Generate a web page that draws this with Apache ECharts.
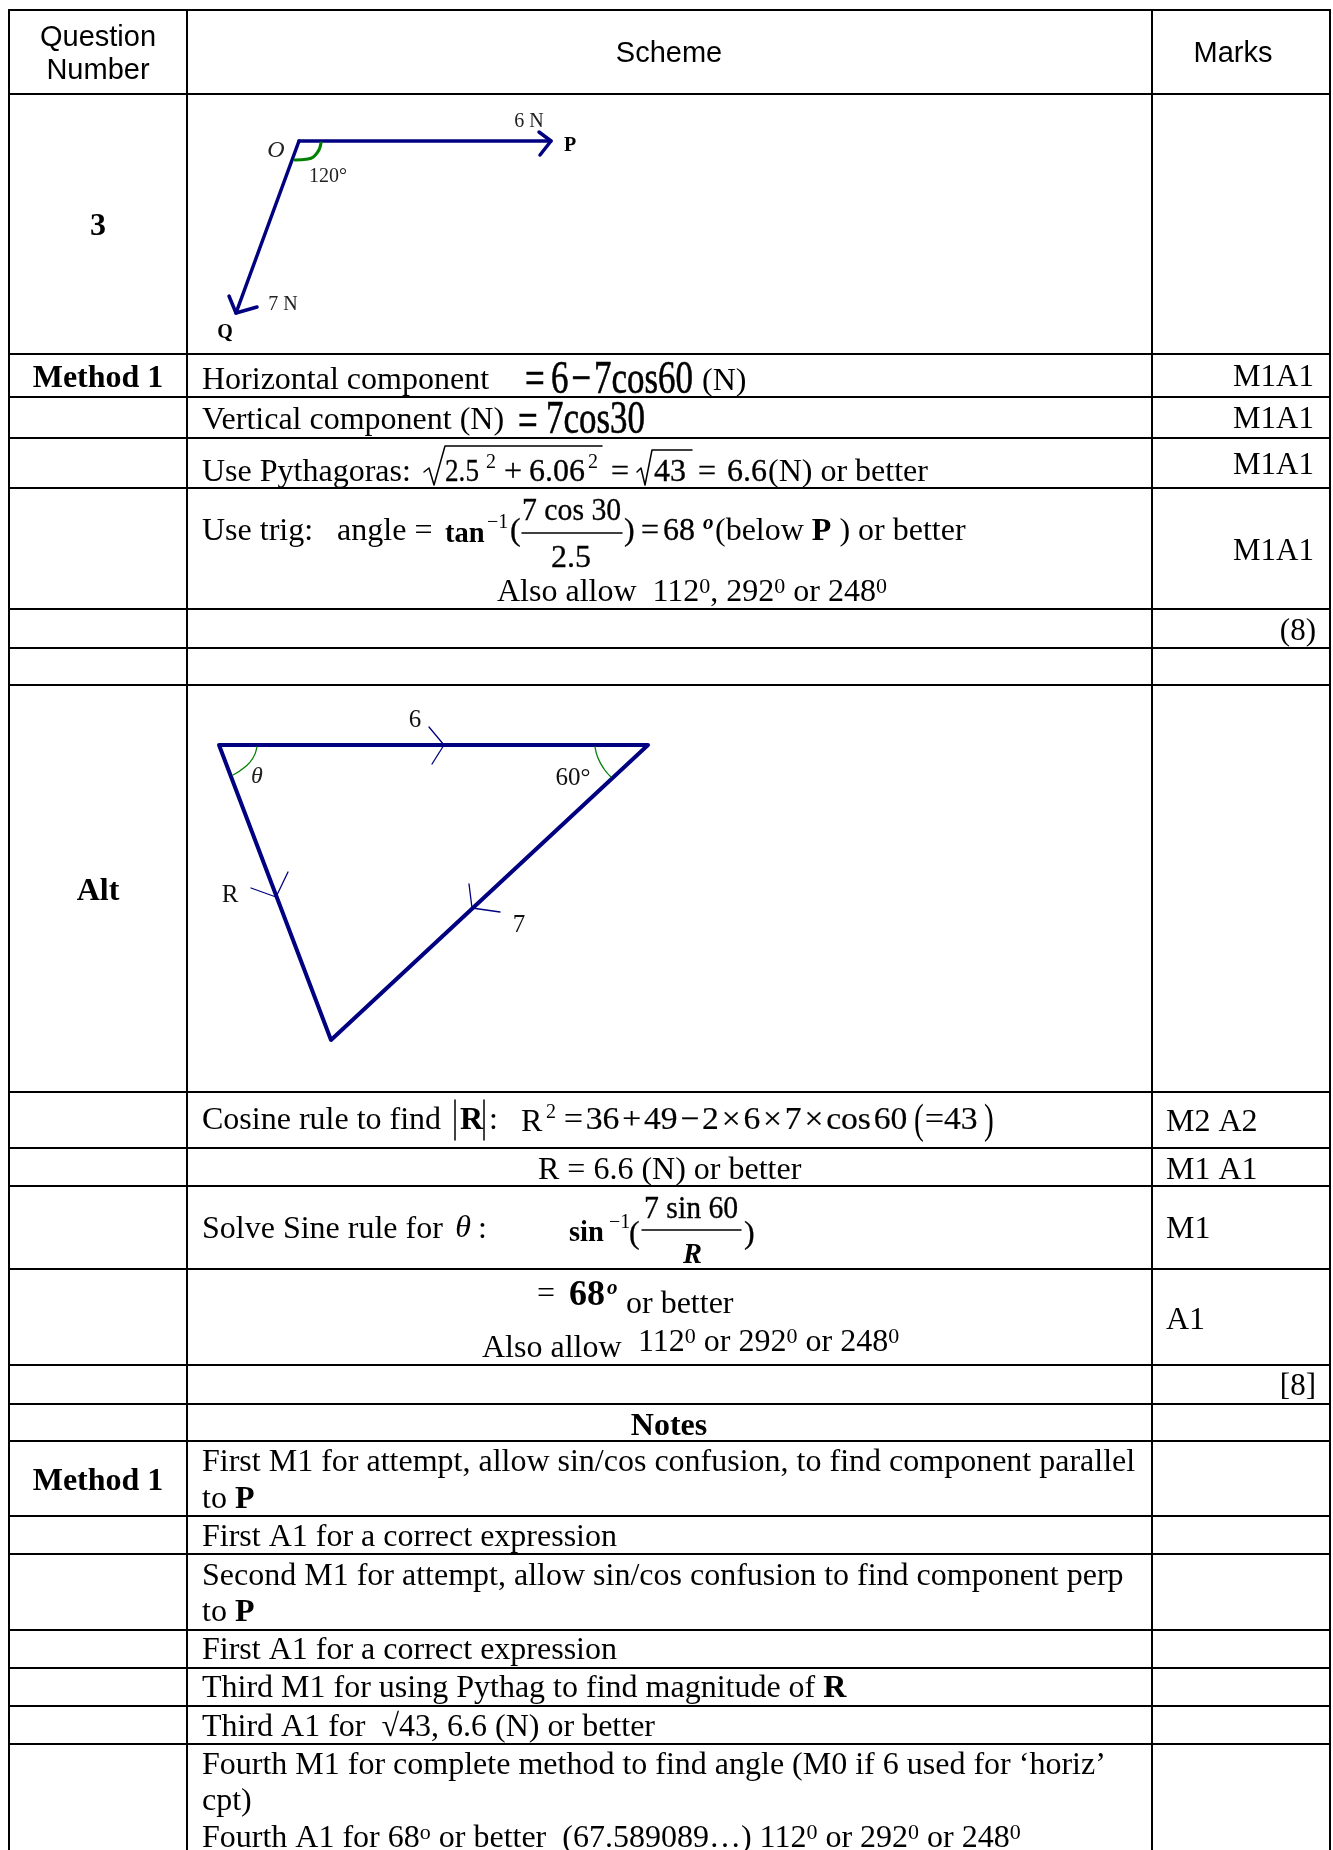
<!DOCTYPE html>
<html>
<head>
<meta charset="utf-8">
<title>Question 3 scheme</title>
<script src="https://cdn.jsdelivr.net/npm/echarts@6/dist/echarts.min.js"></script>
<style>
  html, body { margin: 0; padding: 0; background: #fff; }
  #chart { width: 1333px; height: 1850px; }
</style>
</head>
<body>
<div id="chart"></div>
<script>
// table grid
var columnEdges = [9, 187, 1152, 1330];
var rowEdges = [10, 94, 354, 397, 438, 488, 609, 648, 685, 1092, 1148, 1186, 1269, 1365, 1404, 1441, 1516, 1554, 1630, 1668, 1706, 1744];

// force diagram
var forcePaths = [
  [[299, 141], [551, 141]],
  [[539, 132], [551, 141], [540, 155]],
  [[299, 141], [236, 313]],
  [[229, 296], [236, 313], [257, 307]]
];
var forceArc = [[321, 143], [317, 153], [308, 159], [295, 160]];

// triangle diagram
var trianglePath = [[219, 745], [648, 745], [331, 1040], [219, 745]];
var triangleTicks = [
  [[429, 727], [444, 745], [432, 764]],
  [[251, 888], [276, 897], [288, 872]],
  [[469, 884], [472, 908], [500, 912]]
];
var triangleArcs = [
  [[257, 747], [253, 758], [245, 767], [233, 775]],
  [[595, 747], [598, 758], [604, 769], [611, 777]]
];

// rules inside the formulas
var mathRules = [
  [[424, 472], [429, 468], [434, 485], [445, 446], [602, 446]],
  [[637, 472], [641, 468], [645, 485], [652, 450], [692, 450]],
  [[522, 533], [622, 533]],
  [[642, 1230], [741, 1230]],
  [[455, 1100], [455, 1140]],
  [[484, 1100], [484, 1140]]
];

// text, one list of strings and one of anchors per style
var headerTexts = ['Question', 'Number', 'Scheme', 'Marks'];
var headerAnchors = [[98, 35], [98, 68], [669, 51], [1233, 51]];

var sideTexts = ['3', 'Method 1', 'Alt', 'Notes', 'Method 1'];
var sideAnchors = [[98, 224], [98, 376], [98, 889], [669, 1424], [98, 1479]];

var forceTexts = ['6 N', '120°', '7 N'];
var forceAnchors = [[529, 119], [328, 174], [283, 302]];
var triangleTexts = ['6', '60°', 'R', '7'];
var triangleTextAnchors = [[415, 718], [573, 776], [230, 893], [519, 923]];
var forceNames = ['P', 'Q'];
var forceNameAnchors = [[570, 143], [225, 330]];
var italicTexts = ['O', 'θ'];
var italicAnchors = [[276, 148], [257, 774]];

var bodyTexts = [
  'Horizontal component', '(N)',
  'Vertical component (N)',
  'Use Pythagoras:', '(N) or better',
  'Use trig:   angle =', '(below {b|P} ) or better',
  'Also allow  112{s|0}, 292{s|0} or 248{s|0}',
  'Cosine rule to find', ':', 'R', ':',
  'R = 6.6 (N) or better',
  'Solve Sine rule for',
  '=', 'or better',
  'Also allow', '112{s|0} or 292{s|0} or 248{s|0}',
  'First M1 for attempt, allow sin/cos confusion, to find component parallel',
  'to {b|P}',
  'First A1 for a correct expression',
  'Second M1 for attempt, allow sin/cos confusion to find component perp',
  'to {b|P}',
  'First A1 for a correct expression',
  'Third M1 for using Pythag to find magnitude of {b|R}',
  'Third A1 for  √43, 6.6 (N) or better',
  'Fourth M1 for complete method to find angle (M0 if 6 used for ‘horiz’',
  'cpt)',
  'Fourth A1 for 68{s|o} or better  (67.589089…) 112{s|0} or 292{s|0} or 248{s|0}'
];
var bodyAnchors = [
  [202, 378], [702, 379],
  [202, 418],
  [202, 470], [768, 470],
  [202, 529], [715, 529],
  [497, 590],
  [202, 1118], [489, 1118], [521, 1120], [478, 1227],
  [538, 1168],
  [202, 1227],
  [537, 1292], [626, 1302],
  [482, 1346], [638, 1340],
  [202, 1460], [202, 1497], [202, 1535], [202, 1574], [202, 1610], [202, 1648],
  [202, 1686], [202, 1725], [202, 1763], [202, 1799], [202, 1836]
];

var markTexts = ['M1A1', 'M1A1', 'M1A1', 'M1A1', '(8)', '[8]'];
var markAnchors = [[1314, 375], [1314, 417], [1314, 463], [1314, 549], [1316, 629], [1316, 1384]];
var markLeftTexts = ['M2 A2', 'M1 A1', 'M1', 'A1'];
var markLeftAnchors = [[1166, 1120], [1166, 1168], [1166, 1227], [1166, 1318]];

var bigMathTexts = ['=', '6\u200a−\u200a7cos60', '=', '7cos30'];
var bigMathAnchors = [[525, 378], [551, 378], [518, 420], [546, 418]];

var mathTexts = [
  '+', '6.06', '=', '43', '=', '6.6',
  '=', '68', '2.5', '(', ')',
  '(', ')'
];
var mathAnchors = [
  [504, 470], [529, 470], [611, 470], [654, 470], [698, 470], [727, 470],
  [641, 529], [663, 529], [551, 556], [510, 529], [624, 529],
  [629, 1232], [744, 1232]
];

var narrowTexts = ['2.5'];
var narrowAnchors = [[445, 470]];
var fractionTexts = ['7 cos 30', '7 sin 60'];
var fractionAnchors = [[522, 509], [644, 1207]];
var cosineTexts = ['=\u200a36\u200a+\u200a49\u200a−\u200a2\u200a×\u200a6\u200a×\u200a7\u200a×\u200acos\u200a60', '=43'];
var cosineAnchors = [[564, 1118], [925, 1118]];

var boldMathTexts = ['tan', 'sin', '{i|R}'];
var boldMathAnchors = [[445, 532], [569, 1231], [683, 1253]];

var tinyTexts = ['−1', '−1', '2', '2', '2'];
var tinyAnchors = [[487, 520], [609, 1220], [546, 1110], [486, 460], [588, 460]];

var boldBodyTexts = ['R'];
var boldBodyAnchors = [[460, 1118]];
var boldLargeTexts = ['68'];
var boldLargeAnchors = [[569, 1293]];

var degreeTexts = ['o', 'o'];
var degreeAnchors = [[703, 521], [607, 1286]];

var tallTexts = ['(', ')'];
var tallAnchors = [[914, 1119], [984, 1119]];

var thetaTexts = ['θ'];
var thetaAnchors = [[463, 1226]];

var SERIF = '"Liberation Serif"';
var SANS = '"Liberation Sans"';
var TEXT_DROP = 2.5;

function lineSeries(path, color, width, smooth) {
  return {
    type: 'line',
    data: path,
    symbol: 'none',
    silent: true,
    smooth: smooth || false,
    lineStyle: { color: color, width: width, cap: 'round', join: 'round' },
    z: 2
  };
}

function textSeries(texts, anchors, opt) {
  return {
    type: 'custom',
    silent: true,
    z: 3,
    clip: false,
    data: anchors,
    encode: { x: 0, y: 1 },
    renderItem: function (params, api) {
      var pos = api.coord([api.value(0), api.value(1)]);
      var size = opt.size;
      return {
        type: 'text',
        x: pos[0],
        y: pos[1] + TEXT_DROP,
        scaleX: opt.scaleX || 1,
        scaleY: opt.scaleY || 1,
        style: {
          text: texts[params.dataIndex],
          x: 0,
          y: 0,
          fill: opt.color || '#000',
          stroke: opt.heavy ? '#000' : null,
          lineWidth: opt.heavy || 0,
          fontFamily: opt.family || SERIF,
          fontSize: size,
          fontWeight: opt.weight || 'normal',
          fontStyle: opt.italic ? 'italic' : 'normal',
          align: opt.align || 'left',
          verticalAlign: 'middle',
          rich: {
            s: { fontFamily: SERIF, fontSize: Math.round(size * 0.68), verticalAlign: 'top', fill: '#000' },
            b: { fontFamily: SERIF, fontSize: size, fontWeight: 'bold', fill: '#000' },
            i: { fontFamily: SERIF, fontSize: size, fontWeight: 'bold', fontStyle: 'italic', fill: '#000' }
          }
        }
      };
    }
  };
}

var series = [];

// table rules
rowEdges.forEach(function (y) {
  series.push(lineSeries([[columnEdges[0], y], [columnEdges[3], y]], '#000', 2));
});
columnEdges.forEach(function (x) {
  series.push(lineSeries([[x, rowEdges[0]], [x, 1850]], '#000', 2));
});

// diagrams
forcePaths.forEach(function (p) { series.push(lineSeries(p, '#000080', 3.5)); });
series.push(lineSeries(forceArc, '#008000', 3, true));
series.push(lineSeries(trianglePath, '#000080', 4));
triangleTicks.forEach(function (p) { series.push(lineSeries(p, '#000080', 1.3)); });
triangleArcs.forEach(function (p) { series.push(lineSeries(p, '#008000', 1.3, true)); });
mathRules.forEach(function (p) { series.push(lineSeries(p, '#000', 1.5)); });

// text
series.push(textSeries(headerTexts, headerAnchors, { family: SANS, size: 29, align: 'center' }));
series.push(textSeries(sideTexts, sideAnchors, { size: 32, weight: 'bold', align: 'center' }));
series.push(textSeries(forceTexts, forceAnchors, { size: 20, align: 'center', color: '#222' }));
series.push(textSeries(triangleTexts, triangleTextAnchors, { size: 25, align: 'center', color: '#111' }));
series.push(textSeries(forceNames, forceNameAnchors, { size: 20, weight: 'bold', align: 'center' }));
series.push(textSeries(italicTexts, italicAnchors, { size: 24, italic: true, align: 'center', color: '#222' }));
series.push(textSeries(bodyTexts, bodyAnchors, { size: 32 }));
series.push(textSeries(markTexts, markAnchors, { size: 31, align: 'right' }));
series.push(textSeries(markLeftTexts, markLeftAnchors, { size: 32 }));
series.push(textSeries(bigMathTexts, bigMathAnchors, { size: 46, scaleX: 0.76, heavy: 0.6 }));
series.push(textSeries(mathTexts, mathAnchors, { size: 32, heavy: 0.3 }));
series.push(textSeries(narrowTexts, narrowAnchors, { size: 32, scaleX: 0.85, heavy: 0.3 }));
series.push(textSeries(fractionTexts, fractionAnchors, { size: 32, scaleX: 0.93, heavy: 0.3 }));
series.push(textSeries(cosineTexts, cosineAnchors, { size: 32, scaleX: 1.05, heavy: 0.2 }));
series.push(textSeries(boldMathTexts, boldMathAnchors, { size: 30, weight: 'bold', scaleX: 0.95 }));
series.push(textSeries(tinyTexts, tinyAnchors, { size: 20 }));
series.push(textSeries(boldBodyTexts, boldBodyAnchors, { size: 32, weight: 'bold' }));
series.push(textSeries(boldLargeTexts, boldLargeAnchors, { size: 36, weight: 'bold' }));
series.push(textSeries(degreeTexts, degreeAnchors, { size: 21, weight: 'bold', italic: true }));
series.push(textSeries(tallTexts, tallAnchors, { size: 42, scaleX: 0.7 }));
series.push(textSeries(thetaTexts, thetaAnchors, { size: 32, italic: true, align: 'center' }));

var chart = echarts.init(document.getElementById('chart'));
chart.setOption({
  animation: false,
  backgroundColor: '#fff',
  grid: { left: 0, right: 0, top: 0, bottom: 0 },
  xAxis: { type: 'value', min: 0, max: 1333, show: false },
  yAxis: { type: 'value', min: 0, max: 1850, inverse: true, show: false },
  series: series
});
</script>
</body>
</html>
